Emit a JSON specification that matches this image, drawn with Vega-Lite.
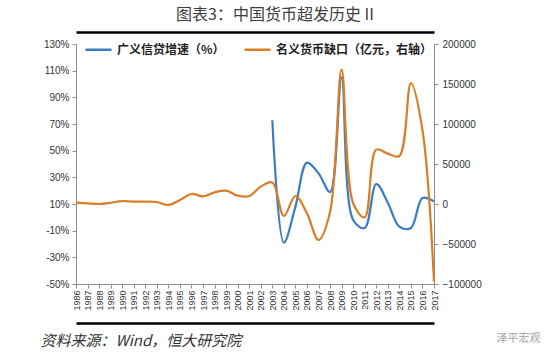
{
  "$schema": "https://vega.github.io/schema/vega-lite/v6.json",
  "width": 358,
  "height": 240,
  "autosize": {"type": "none"},
  "padding": {"left": 76, "top": 44, "right": 116, "bottom": 74},
  "background": "white",
  "title": {
    "text": "图表3：中国货币超发历史 II",
    "anchor": "middle",
    "dx": 20,
    "offset": 9,
    "fontSize": 16,
    "font": "Noto Sans CJK SC",
    "fontWeight": "normal",
    "color": "#404040"
  },
  "config": {
    "view": {"stroke": null},
    "axis": {
      "labelFont": "Liberation Sans",
      "labelColor": "#333333",
      "domainColor": "#8c8c8c",
      "tickColor": "#8c8c8c",
      "grid": false
    }
  },
  "data": {
    "values": [
      {"year": "1986", "credit": null, "gap": 1600},
      {"year": "1987", "credit": null, "gap": 900},
      {"year": "1988", "credit": null, "gap": 0},
      {"year": "1989", "credit": null, "gap": 1600},
      {"year": "1990", "credit": null, "gap": 3700},
      {"year": "1991", "credit": null, "gap": 2900},
      {"year": "1992", "credit": null, "gap": 2900},
      {"year": "1993", "credit": null, "gap": 2500},
      {"year": "1994", "credit": null, "gap": -1200},
      {"year": "1995", "credit": null, "gap": 5000},
      {"year": "1996", "credit": null, "gap": 12500},
      {"year": "1997", "credit": null, "gap": 9600},
      {"year": "1998", "credit": null, "gap": 14600},
      {"year": "1999", "credit": null, "gap": 16700},
      {"year": "2000", "credit": null, "gap": 10500},
      {"year": "2001", "credit": null, "gap": 10000},
      {"year": "2002", "credit": null, "gap": 21700},
      {"year": "2003", "credit": 72.8, "gap": 27000},
      {"year": "2004", "credit": -19, "gap": -15000},
      {"year": "2005", "credit": 8, "gap": 10000},
      {"year": "2006", "credit": 41, "gap": -11700},
      {"year": "2007", "credit": 33, "gap": -45000},
      {"year": "2008", "credit": 19, "gap": -10000},
      {"year": "2009", "credit": 105, "gap": 168000},
      {"year": "2010", "credit": -2, "gap": 900},
      {"year": "2011", "credit": -8, "gap": -16700},
      {"year": "2012", "credit": 25, "gap": 68000},
      {"year": "2013", "credit": 11, "gap": 63000},
      {"year": "2014", "credit": -7, "gap": 60000},
      {"year": "2015", "credit": -8, "gap": 151000},
      {"year": "2016", "credit": 14.5, "gap": 92500},
      {"year": "2017", "credit": 12, "gap": -97000}
    ]
  },
  "layer": [
    {
      "mark": {"type": "line", "interpolate": "catmull-rom", "strokeWidth": 2.2},
      "encoding": {
        "x": {
          "field": "year",
          "type": "ordinal",
          "scale": {"type": "point", "padding": 0},
          "axis": {
            "labelAngle": -90,
            "labelFontSize": 9,
            "labelPadding": 2,
            "tickSize": 4,
            "title": "泽平宏观",
            "titleFont": "Noto Sans CJK SC",
            "titleFontSize": 11,
            "titleFontWeight": "normal",
            "titleColor": "#a0a0a0",
            "titleX": 442,
            "titleY": 57,
            "titleAlign": "center",
            "titleBaseline": "alphabetic"
          }
        },
        "y": {
          "field": "credit",
          "type": "quantitative",
          "scale": {"domain": [-50, 130]},
          "axis": {
            "orient": "left",
            "values": [-50, -30, -10, 10, 30, 50, 70, 90, 110, 130],
            "labelExpr": "datum.value + '%'",
            "labelFontSize": 10,
            "tickSize": 4,
            "labelPadding": 3,
            "title": null
          }
        },
        "color": {
          "datum": "广义信贷增速（%）",
          "scale": {
            "domain": ["广义信贷增速（%）", "名义货币缺口（亿元，右轴）"],
            "range": ["#3a7cc4", "#d97e27"]
          },
          "legend": {
            "orient": "none",
            "legendX": 8,
            "legendY": -9,
            "direction": "horizontal",
            "title": null,
            "symbolType": "stroke",
            "symbolSize": 676,
            "symbolStrokeWidth": 2.5,
            "labelFont": "Noto Sans CJK SC",
            "labelFontWeight": "bold",
            "labelFontSize": 12,
            "labelColor": "#222222",
            "labelOffset": 4,
            "columnPadding": 14,
            "labelLimit": 220
          }
        }
      }
    },
    {
      "mark": {"type": "line", "interpolate": "catmull-rom", "strokeWidth": 2.2},
      "encoding": {
        "x": {
          "field": "year",
          "type": "ordinal",
          "scale": {"type": "point", "padding": 0},
          "axis": {
            "orient": "top",
            "offset": 12,
            "labels": false,
            "ticks": false,
            "domainColor": "#000000",
            "domainWidth": 2.5,
            "title": null
          }
        },
        "y": {
          "field": "gap",
          "type": "quantitative",
          "scale": {"domain": [-100000, 200000]},
          "axis": {
            "orient": "right",
            "values": [-100000, -50000, 0, 50000, 100000, 150000, 200000],
            "format": "d",
            "labelFontSize": 10,
            "tickSize": 4,
            "labelPadding": 4,
            "title": null
          }
        },
        "color": {"datum": "名义货币缺口（亿元，右轴）"}
      }
    },
    {
      "mark": {"type": "line", "strokeOpacity": 0},
      "encoding": {
        "x": {
          "field": "year",
          "type": "ordinal",
          "scale": {"type": "point", "padding": 0},
          "axis": {
            "orient": "bottom",
            "offset": 39,
            "labels": false,
            "ticks": false,
            "domainColor": "#000000",
            "domainWidth": 2.5,
            "title": "资料来源：Wind，恒大研究院",
            "titleFont": "Noto Sans CJK SC",
            "titleFontSize": 15,
            "titleFontStyle": "italic",
            "titleFontWeight": "normal",
            "titleColor": "#333333",
            "titleX": -36,
            "titleY": 22,
            "titleAlign": "left",
            "titleBaseline": "alphabetic"
          }
        },
        "y": {
          "field": "credit",
          "type": "quantitative",
          "scale": {"domain": [-50, 130]},
          "axis": null
        }
      }
    }
  ],
  "resolve": {
    "scale": {"y": "independent"},
    "axis": {"x": "independent"}
  }
}
